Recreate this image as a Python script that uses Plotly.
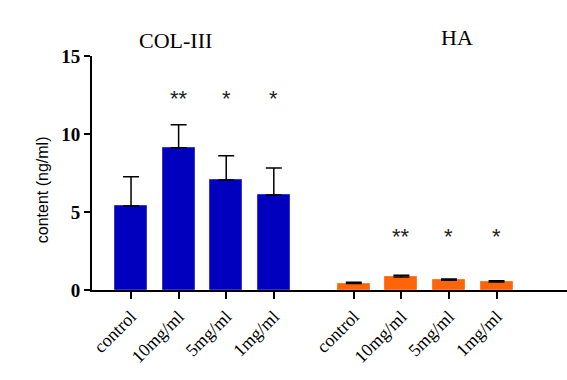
import plotly.graph_objects as go

categories = ["control", "10mg/ml", "5mg/ml", "1mg/ml"]
col_mean = [5.38, 9.12, 7.05, 6.09]
col_err = [1.88, 1.48, 1.55, 1.73]
ha_mean = [0.41, 0.83, 0.62, 0.51]
ha_err = [0.09, 0.11, 0.08, 0.09]
col_sig = ["", "**", "*", "*"]
ha_sig = ["", "**", "*", "*"]
y_ticks = [0, 5, 10, 15]

GROUP_OFFSET = 4.68
x_col = [i for i in range(len(categories))]
x_ha = [i + GROUP_OFFSET for i in range(len(categories))]

fig = go.Figure()
fig.add_trace(go.Bar(
    x=x_col, y=col_mean, width=0.67,
    marker=dict(color="#0000BE", line=dict(color="#3535D0", width=1)),
    error_y=dict(type="data", array=col_err, arrayminus=[0]*4, symmetric=False,
                 color="black", thickness=1.5, width=8),
    showlegend=False,
))
fig.add_trace(go.Bar(
    x=x_ha, y=ha_mean, width=0.67,
    marker=dict(color="#FF6408", line=dict(color="#FF7A30", width=1)),
    error_y=dict(type="data", array=ha_err, arrayminus=[0]*4, symmetric=False,
                 color="black", thickness=1.5, width=8),
    showlegend=False,
))

annotations = []
for x, s in zip(x_col, col_sig):
    if s:
        annotations.append(dict(x=x, y=12.3, xref="x", yref="y", text=s, showarrow=False,
                                font=dict(family="Liberation Sans", size=22, color="#222")))
for x, s in zip(x_ha, ha_sig):
    if s:
        annotations.append(dict(x=x, y=3.4, xref="x", yref="y", text=s, showarrow=False,
                                font=dict(family="Liberation Sans", size=22, color="#222")))
annotations.append(dict(x=0.175, y=1.068, xref="paper", yref="paper", text="COL-III",
                        xanchor="center", yanchor="middle",
                        showarrow=False, font=dict(family="Liberation Serif", size=22, color="black")))
annotations.append(dict(x=0.768, y=1.077, xref="paper", yref="paper", text="HA",
                        xanchor="center", yanchor="middle",
                        showarrow=False, font=dict(family="Liberation Serif", size=22, color="black")))
annotations.append(dict(x=-0.105, y=0.427, xref="paper", yref="paper", text="content (ng/ml)",
                        xanchor="center", yanchor="middle",
                        textangle=-90, showarrow=False,
                        font=dict(family="Liberation Sans", size=16, color="black")))

fig.update_layout(
    width=567, height=380,
    margin=dict(l=92, r=0, t=56, b=90),
    plot_bgcolor="white", paper_bgcolor="white",
    bargap=0,
    annotations=annotations,
    xaxis=dict(
        range=[-0.82, 9.16],
        tickvals=x_col + x_ha, ticktext=categories + categories,
        tickangle=-45, ticks="outside", ticklen=7, tickwidth=2, tickcolor="black",
        showline=True, linecolor="black", linewidth=2, showgrid=False, zeroline=False,
        tickfont=dict(family="Liberation Serif", size=18, color="black"),
    ),
    yaxis=dict(
        range=[0, 15], tickvals=y_ticks,
        ticks="outside", ticklen=6, tickwidth=2, tickcolor="black",
        showline=True, linecolor="black", linewidth=2, showgrid=False, zeroline=False,
        tickfont=dict(family="Liberation Serif", size=19, color="black", weight="bold"),
    ),
)

fig.write_html(
    "out.html", config={"displayModeBar": False},
    post_script=("document.documentElement.style.overflow='hidden';"
                 "document.body.style.margin='0';document.body.style.overflow='hidden';"),
)
